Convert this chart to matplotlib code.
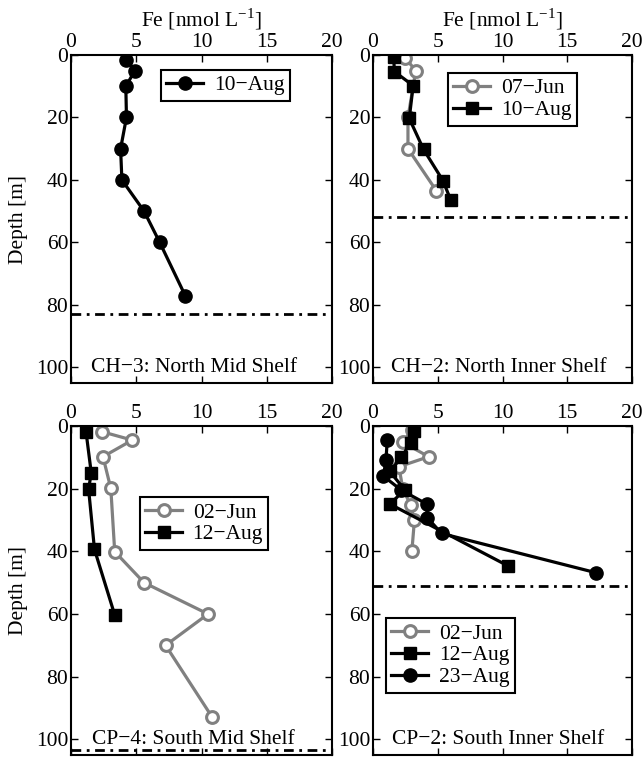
import matplotlib
matplotlib.use("Agg")
import matplotlib.pyplot as plt

plt.rcParams['font.family'] = ['Liberation Serif', 'DejaVu Serif']
plt.rcParams['mathtext.fontset'] = 'custom'
plt.rcParams['mathtext.rm'] = 'Liberation Serif'
FS = 15.5
plt.rcParams['font.size'] = FS

GRAY = (0.5, 0.5, 0.5)
M = "\u2212"

# ---- Data ----
# CH-3: North Mid Shelf
ch3_aug10_fe = [4.25, 4.9, 4.2, 4.25, 3.8, 3.9, 5.6, 6.8, 8.75]
ch3_aug10_z = [1.5, 5, 10, 20, 30, 40, 50, 60, 77]
ch3_bottom = 83

# CH-2: North Inner Shelf
ch2_jun07_fe = [2.5, 3.3, 2.7, 2.7, 4.9]
ch2_jun07_z = [1, 5, 20, 30, 43.5]
ch2_aug10_fe = [1.6, 1.65, 3.1, 2.8, 3.9, 5.4, 6.0]
ch2_aug10_z = [0.8, 5.3, 9.8, 20.3, 30.2, 40.2, 46.4]
ch2_bottom = 52

# CP-4: South Mid Shelf
cp4_jun02_fe = [2.35, 4.7, 2.45, 3.05, 3.35, 5.6, 10.5, 7.25, 10.8]
cp4_jun02_z = [1.8, 4.5, 9.8, 19.9, 40.1, 50, 60, 70, 92.8]
cp4_aug12_fe = [1.15, 1.55, 1.35, 1.8, 3.35]
cp4_aug12_z = [1.8, 14.9, 20.2, 39.4, 60.3]
cp4_bottom = 103.5

# CP-2: South Inner Shelf
cp2_jun02_fe = [3.0, 2.3, 4.3, 2.0, 2.3, 2.9, 3.2, 3.0]
cp2_jun02_z = [1.2, 5.2, 9.8, 13, 20, 25.2, 30, 40]
cp2_aug12_fe = [3.2, 2.9, 2.2, 1.3, 2.45, 1.3, 10.45]
cp2_aug12_z = [1.5, 5.3, 10, 14.5, 20.4, 24.9, 44.7]
cp2_aug23_fe = [1.1, 1.0, 0.8, 2.2, 4.15, 4.2, 5.3, 17.2]
cp2_aug23_z = [4.5, 11, 16, 20.5, 24.9, 29.3, 34.3, 46.8]
cp2_bottom = 51

xticks = [0, 5, 10, 15, 20]
yticks = [0, 20, 40, 60, 80, 100]

W, H = 644, 759
fig = plt.figure(figsize=(W / 100, H / 100), dpi=100)

def px_axes(x0, y0, x1, y1):
    return fig.add_axes([x0 / W, 1 - y1 / H, (x1 - x0) / W, (y1 - y0) / H])

ax1 = px_axes(71, 55, 332, 383)
ax2 = px_axes(373, 55, 632, 383)
ax3 = px_axes(71, 426, 332, 755)
ax4 = px_axes(373, 426, 632, 755)

LW = 2.3

def black_circle(ax, x, y, label):
    ax.plot(x, y, '-', color='k', lw=LW, marker='o', ms=9.5, mfc='k', mec='k',
            label=label, zorder=3)

def black_square(ax, x, y, label):
    ax.plot(x, y, '-', color='k', lw=LW, marker='s', ms=8.5, mfc='k', mec='k',
            label=label, zorder=3)

def gray_circle(ax, x, y, label):
    ax.plot(x, y, '-', color=GRAY, lw=LW, marker='o', ms=8.5, mfc='white',
            mec=GRAY, mew=2.2, label=label, zorder=2)

def bottom_line(ax, z):
    ax.axhline(z, color='k', lw=2.0, dashes=(3.5, 2.0, 1.0, 2.0), zorder=1)

def style(ax, xlabel=False, ylabel=False):
    ax.set_xlim(0, 20)
    ax.set_ylim(105, 0)
    ax.set_xticks(xticks)
    ax.set_yticks(yticks)
    ax.xaxis.tick_top()
    ax.tick_params(axis='both', which='both', direction='in', length=5, width=1,
                   top=True, bottom=True, left=True, right=True,
                   labeltop=True, labelbottom=False, labelsize=FS, pad=2)
    for s in ax.spines.values():
        s.set_linewidth(1.5)
    if xlabel:
        ax.set_xlabel("Fe [nmol L$^{" + M + "1}$]", fontsize=FS, labelpad=5)
        ax.xaxis.set_label_position('top')
    if ylabel:
        ax.set_ylabel("Depth [m]", fontsize=FS, labelpad=6)

def legend(ax, anchor):
    leg = ax.legend(loc='upper left', bbox_to_anchor=anchor, fontsize=FS,
                    frameon=True, fancybox=False, shadow=False, framealpha=1,
                    edgecolor='k', handlelength=1.7, handletextpad=0.5,
                    borderpad=0.25, labelspacing=0.08, borderaxespad=0)
    leg.get_frame().set_linewidth(1.5)

# Panel 1
black_circle(ax1, ch3_aug10_fe, ch3_aug10_z, "10" + M + "Aug")
bottom_line(ax1, ch3_bottom)
style(ax1, xlabel=True, ylabel=True)
legend(ax1, (0.345, 0.955))
ax1.text(9.4, 100, "CH" + M + "3: North Mid Shelf", ha='center', va='center', fontsize=FS)

# Panel 2
gray_circle(ax2, ch2_jun07_fe, ch2_jun07_z, "07" + M + "Jun")
black_square(ax2, ch2_aug10_fe, ch2_aug10_z, "10" + M + "Aug")
bottom_line(ax2, ch2_bottom)
style(ax2, xlabel=True)
legend(ax2, (0.29, 0.945))
ax2.text(9.7, 100, "CH" + M + "2: North Inner Shelf", ha='center', va='center', fontsize=FS)

# Panel 3
gray_circle(ax3, cp4_jun02_fe, cp4_jun02_z, "02" + M + "Jun")
black_square(ax3, cp4_aug12_fe, cp4_aug12_z, "12" + M + "Aug")
bottom_line(ax3, cp4_bottom)
style(ax3, ylabel=True)
legend(ax3, (0.264, 0.784))
ax3.text(9.4, 100, "CP" + M + "4: South Mid Shelf", ha='center', va='center', fontsize=FS)

# Panel 4
gray_circle(ax4, cp2_jun02_fe, cp2_jun02_z, "02" + M + "Jun")
black_square(ax4, cp2_aug12_fe, cp2_aug12_z, "12" + M + "Aug")
black_circle(ax4, cp2_aug23_fe, cp2_aug23_z, "23" + M + "Aug")
bottom_line(ax4, cp2_bottom)
style(ax4)
legend(ax4, (0.05, 0.416))
ax4.text(9.7, 100, "CP" + M + "2: South Inner Shelf", ha='center', va='center', fontsize=FS)

fig.savefig("out.png", dpi=100)
